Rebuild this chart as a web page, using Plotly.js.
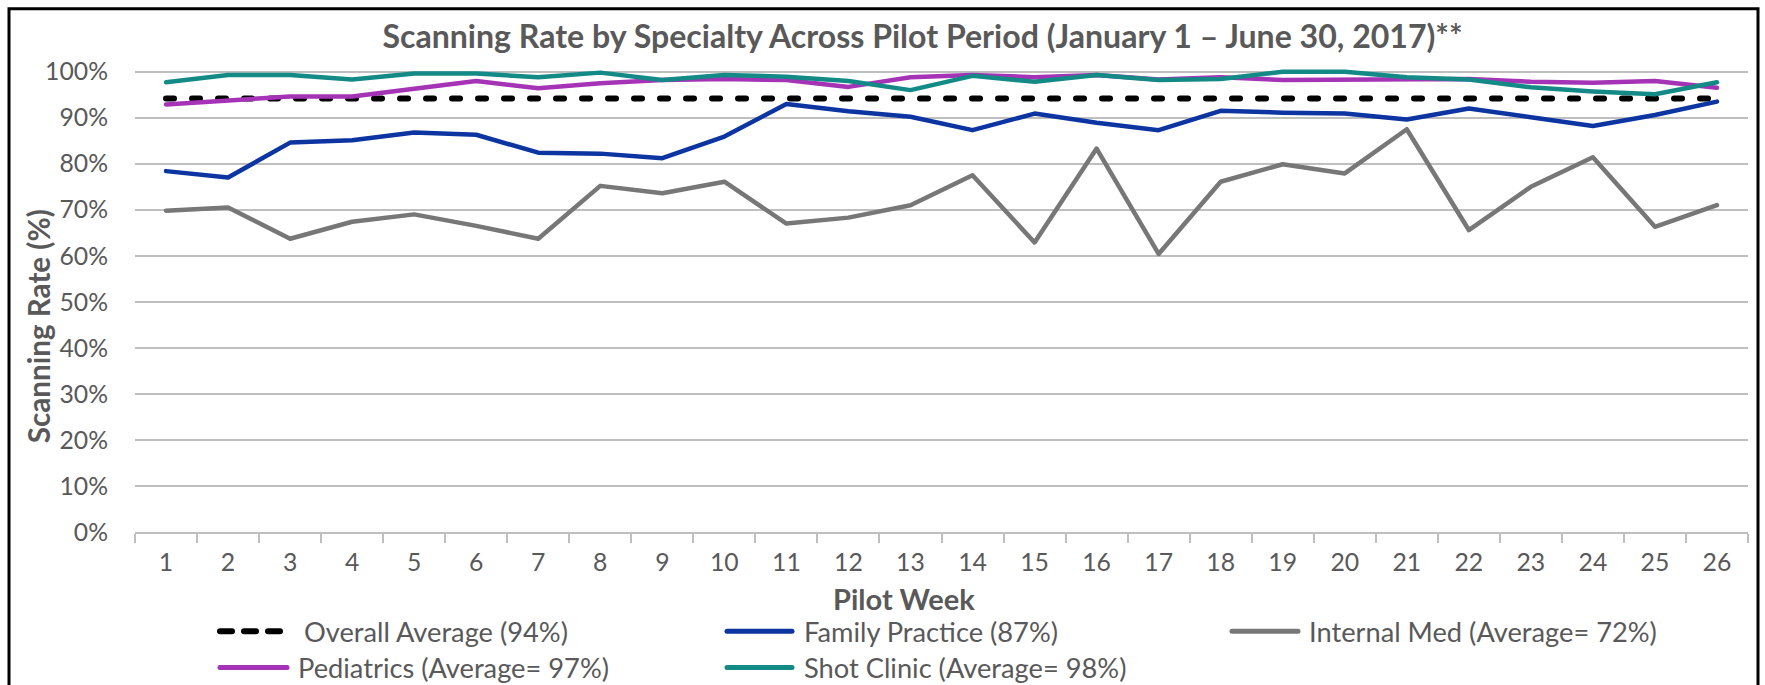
<!DOCTYPE html>
<html>
<head>
<meta charset="utf-8">
<script src="https://cdn.plot.ly/plotly-3.0.1.min.js"></script>
<style>
  html, body { margin: 0; padding: 0; background: #ffffff; }
  #chart { width: 1765px; height: 685px; }
  .scatterlayer .js-line { stroke-linejoin: round; stroke-linecap: round; }
  .shapelayer path { stroke-linecap: round; }
</style>
</head>
<body>
<div id="chart"></div>
<script>
// ---------------- data ----------------
const weeks = ["1","2","3","4","5","6","7","8","9","10","11","12","13",
               "14","15","16","17","18","19","20","21","22","23","24","25","26"];

const overallAverage = [94.2,94.2,94.2,94.2,94.2,94.2,94.2,94.2,94.2,94.2,94.2,94.2,94.2,
                        94.2,94.2,94.2,94.2,94.2,94.2,94.2,94.2,94.2,94.2,94.2,94.2,94.2];

const familyPractice = [78.4,77.0,84.6,85.1,86.8,86.3,82.4,82.2,81.2,85.9,93.0,91.4,90.2,
                        87.3,90.9,88.9,87.3,91.5,91.1,90.9,89.6,92.0,90.1,88.2,90.6,93.5];

const internalMed = [69.8,70.5,63.7,67.4,69.0,66.5,63.7,75.2,73.6,76.1,67.0,68.3,71.0,
                     77.5,62.9,83.3,60.4,76.1,79.9,77.9,87.5,65.6,75.0,81.4,66.3,71.0];

const pediatrics = [92.9,93.8,94.6,94.6,96.4,98.0,96.4,97.5,98.2,98.4,98.2,96.7,98.8,
                    99.3,98.8,99.3,98.3,98.8,98.2,98.2,98.2,98.4,97.8,97.6,98.0,96.5];

const shotClinic = [97.7,99.3,99.3,98.3,99.6,99.6,98.8,99.8,98.2,99.3,98.9,98.0,96.0,
                    99.1,97.8,99.3,98.2,98.4,100.0,100.0,98.8,98.3,96.6,95.7,95.1,97.7];

const seriesNames = ["Overall Average (94%)", "Family Practice (87%)", "Internal Med (Average= 72%)",
                     "Pediatrics (Average= 97%)", "Shot Clinic (Average= 98%)"];

const titleText = "Scanning Rate by Specialty Across Pilot Period (January 1 \u2013 June 30, 2017)**";
const xTitleText = "Pilot Week";
const yTitleText = "Scanning Rate (%)";

// ---------------- styling ----------------
const FONT = "Lato";
const TEXT = "#595959";
const colors = ["#000000", "#0c35a1", "#777777", "#a533b6", "#148a87"];
const widths = [6, 4.5, 4.5, 4.5, 4.5];
const dashes = ["8px,18px", "solid", "solid", "solid", "solid"];
const legendDashes = ["12px,12px", "solid", "solid", "solid", "solid"];

const W = 1765, H = 685;
const plotL = 135, plotR = 1748, plotT = 69, plotB = 531.7;
const yMax = 100 * (plotB - plotT) / (plotB - 71.7);

const cv = document.createElement("canvas").getContext("2d");
function fit(text, weight, target) {
  cv.font = weight + " 100px " + FONT;
  return 100 * target / cv.measureText(text).width;
}
const titleSize = fit(titleText, "bold", 1085);
const tickSize = fit("100%", "normal", 63);
const yTitleSize = fit(yTitleText, "bold", 234);
const xTitleSize = fit(xTitleText, "bold", 142);
const legendSize = fit(seriesNames[2], "normal", 348);

const px2x = p => (p - plotL) / (plotR - plotL);
const px2y = p => (plotB - p) / (plotB - plotT);

const allSeries = [overallAverage, familyPractice, internalMed, pediatrics, shotClinic];
const traces = allSeries.map((vals, i) => ({
  type: "scatter", mode: "lines", x: weeks, y: vals, name: seriesNames[i],
  line: { color: colors[i], width: widths[i], dash: dashes[i] },
  showlegend: false, hoverinfo: "x+y+name"
}));

// manual legend (Excel-style long symbols)
const legendPos = [
  { sx0: 220, sx1: 284, tx: 302, y: 631 },
  { sx0: 727, sx1: 792, tx: 802, y: 631 },
  { sx0: 1232, sx1: 1298, tx: 1307, y: 631 },
  { sx0: 220, sx1: 287, tx: 296, y: 667 },
  { sx0: 727, sx1: 792, tx: 802, y: 667 }
];

const shapes = [{
  type: "rect", xref: "paper", yref: "paper",
  x0: px2x(9), x1: px2x(1758), y0: px2y(8.7), y1: px2y(720),
  line: { color: "#000000", width: 3 }, fillcolor: "rgba(0,0,0,0)"
}];
const annotations = [];
legendPos.forEach((p, i) => {
  shapes.push({
    type: "line", xref: "paper", yref: "paper",
    x0: px2x(p.sx0), x1: px2x(p.sx1), y0: px2y(p.y), y1: px2y(p.y),
    line: { color: colors[i], width: i === 0 ? 6 : 5, dash: legendDashes[i] }
  });
  annotations.push({
    xref: "paper", yref: "paper", x: px2x(p.tx), y: px2y(p.y),
    xanchor: "left", yanchor: "middle", showarrow: false,
    text: seriesNames[i], font: { family: FONT, size: legendSize, color: TEXT }
  });
});
annotations.push({
  xref: "paper", yref: "paper", x: px2x(904), y: px2y(598),
  xanchor: "center", yanchor: "middle", showarrow: false,
  text: "<b>" + xTitleText + "</b>", font: { family: FONT, size: xTitleSize, color: TEXT }
});
annotations.push({
  xref: "paper", yref: "paper", x: px2x(38), y: px2y(326),
  xanchor: "center", yanchor: "middle", showarrow: false, textangle: -90,
  text: "<b>" + yTitleText + "</b>", font: { family: FONT, size: yTitleSize, color: TEXT }
});

const layout = {
  width: W, height: H,
  margin: { l: plotL, r: W - plotR, t: plotT, b: H - plotB, pad: 0 },
  paper_bgcolor: "#ffffff", plot_bgcolor: "#ffffff",
  font: { family: FONT, color: TEXT },
  title: {
    text: "<b>" + titleText + "</b>",
    xref: "container", yref: "container",
    x: 922.5 / W, xanchor: "center", y: 1 - 37 / H, yanchor: "middle",
    font: { family: FONT, size: titleSize, color: TEXT }
  },
  xaxis: {
    type: "category", range: [-0.5, weeks.length - 0.5], autorange: false,
    tickson: "boundaries", ticks: "outside", ticklen: 9,
    tickcolor: "#bfbfbf", tickwidth: 1.5, showline: true, linecolor: "#bfbfbf", linewidth: 1.5,
    showgrid: false, zeroline: false, ticklabelstandoff: 8,
    tickfont: { family: FONT, size: tickSize, color: TEXT }, fixedrange: true
  },
  yaxis: {
    range: [0, yMax], autorange: false, tickmode: "linear", tick0: 0, dtick: 10, ticksuffix: "%",
    showgrid: true, gridcolor: "#bfbfbf", gridwidth: 1.5, zeroline: false, showline: false,
    ticks: "", ticklabelstandoff: 26,
    tickfont: { family: FONT, size: tickSize, color: TEXT }, fixedrange: true
  },
  shapes: shapes,
  annotations: annotations,
  showlegend: false
};

Plotly.newPlot("chart", traces, layout, { displayModeBar: false, responsive: false });
</script>
</body>
</html>
